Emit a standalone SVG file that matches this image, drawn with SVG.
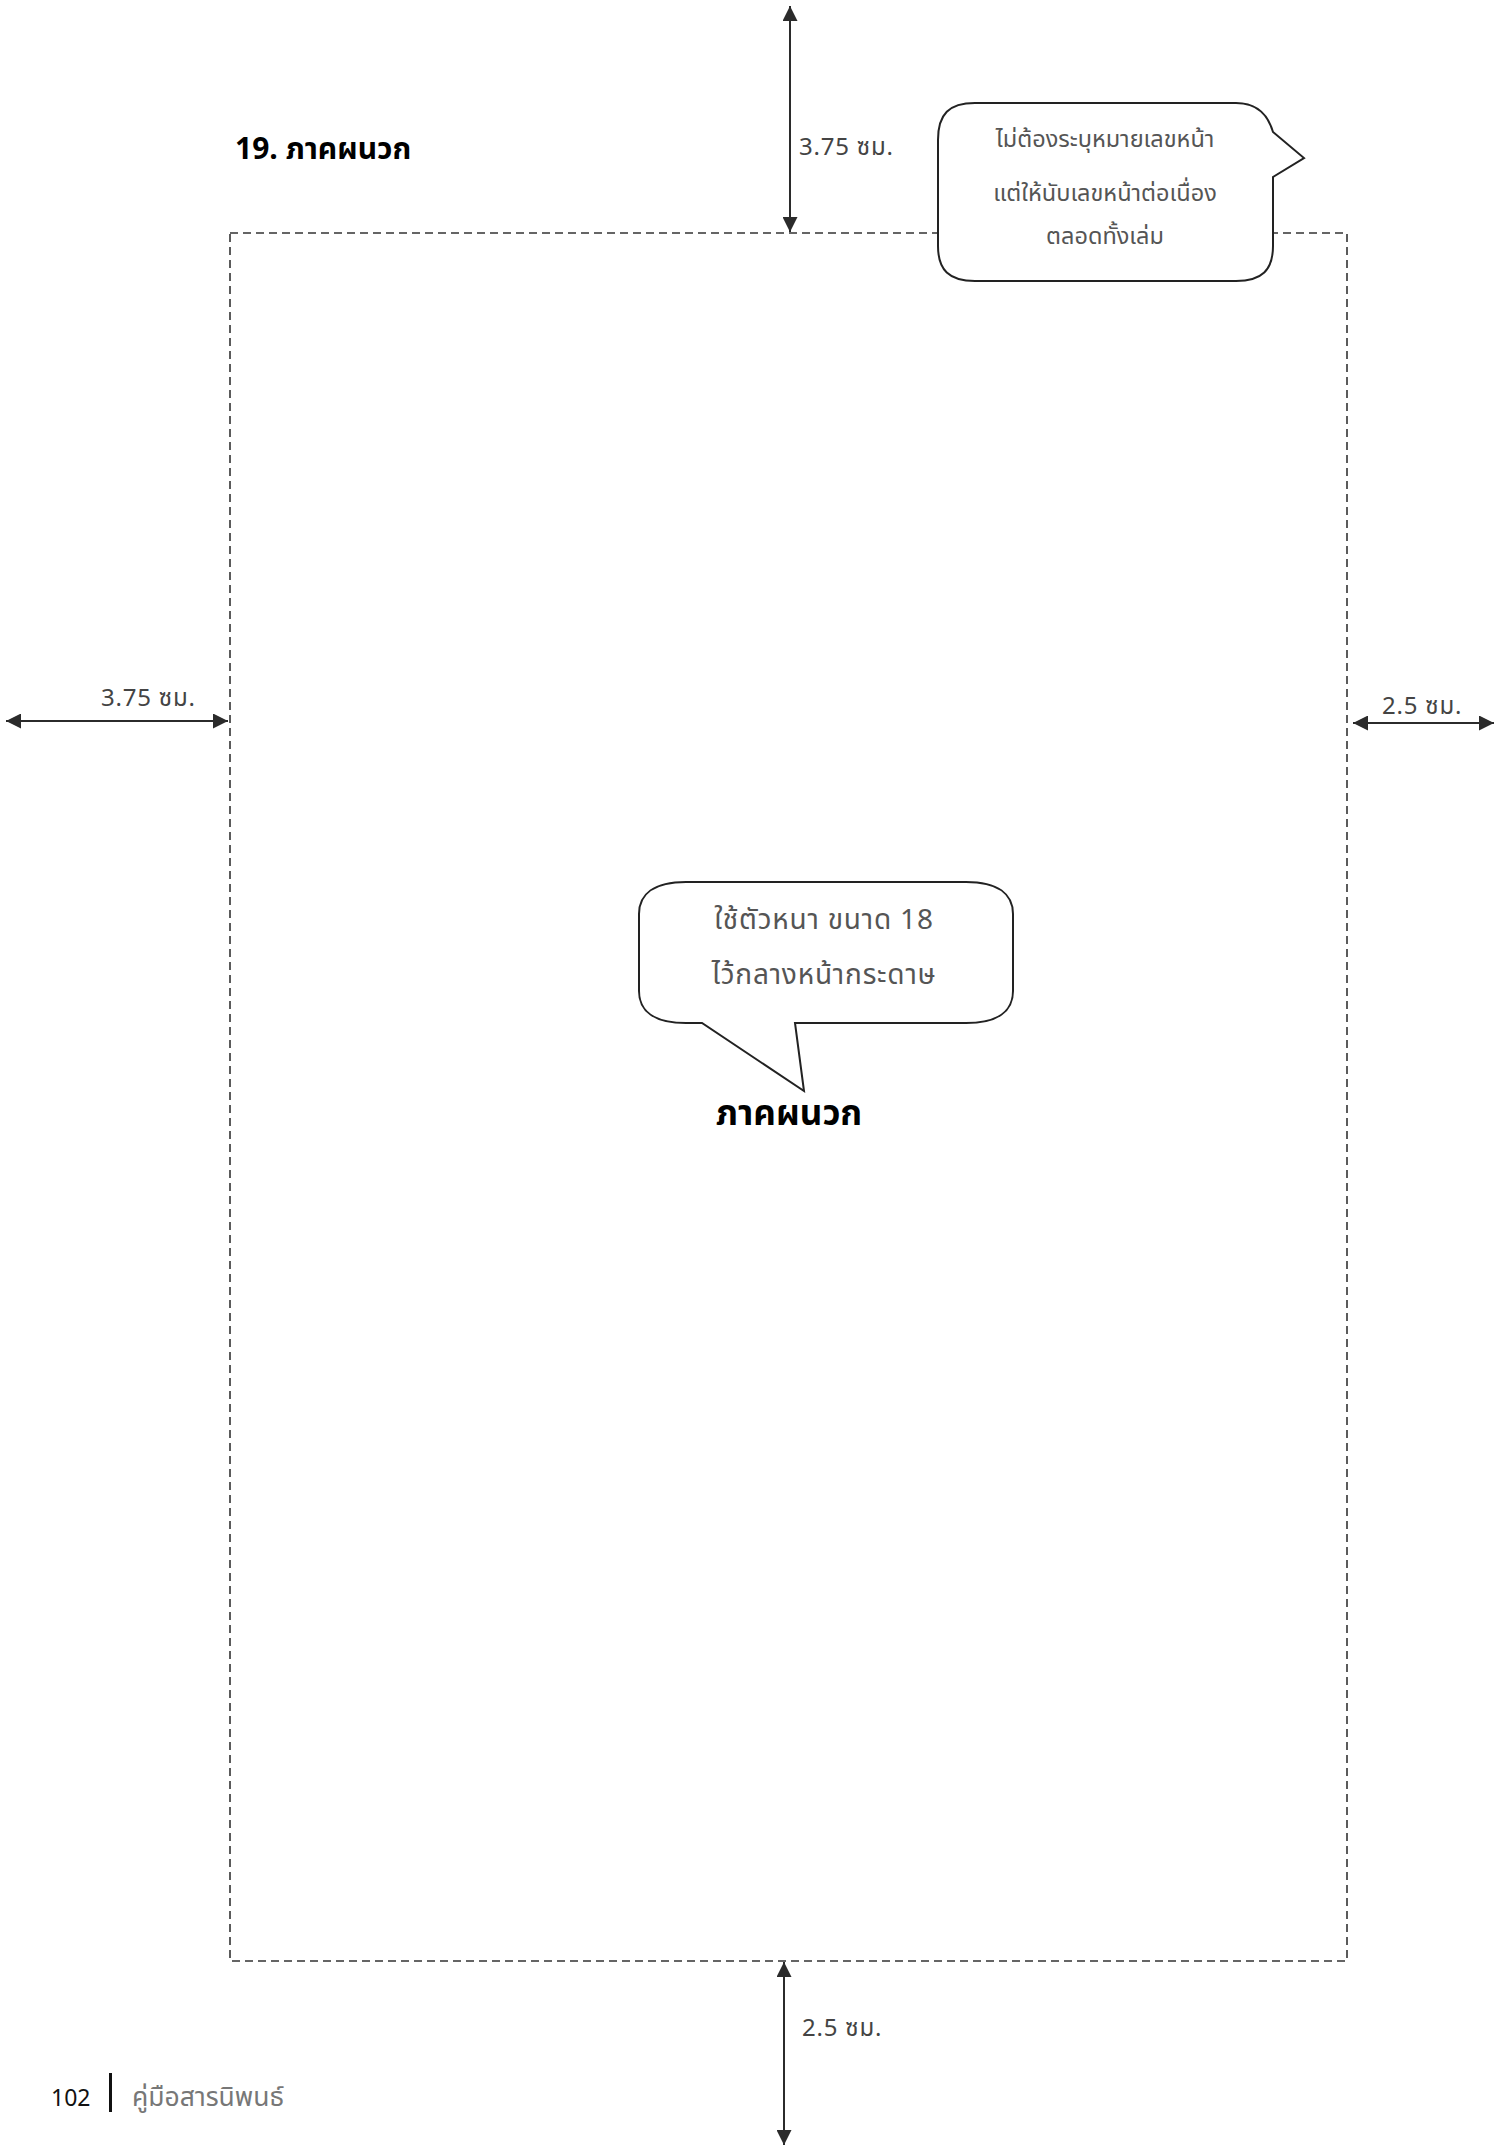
<svg xmlns="http://www.w3.org/2000/svg" width="1502" height="2146" viewBox="0 0 1502 2146">
<style>
.lbl{font-family:"Noto Sans Thai","Noto Sans","DejaVu Sans",sans-serif;fill:#444;font-size:24px;letter-spacing:0.8px}
.note{font-family:"Noto Sans Thai","Noto Sans","DejaVu Sans",sans-serif;fill:#555;font-size:23.5px;text-anchor:middle}
.big{font-size:28px;letter-spacing:0.8px}
.bold{font-family:"Noto Sans Thai","Noto Sans","DejaVu Sans",sans-serif;fill:#000;font-weight:bold}
.dim{stroke:#2b2b2b;stroke-width:2;fill:none;marker-start:url(#ah);marker-end:url(#ah)}
.bubble{fill:#fff;stroke:#222;stroke-width:2}
</style>
<defs>
<marker id="ah" viewBox="0 0 16 16" refX="16" refY="8" markerWidth="16" markerHeight="15" markerUnits="userSpaceOnUse" orient="auto-start-reverse">
<path d="M0,0 L16,8 L0,16 Z" fill="#2b2b2b"/>
</marker>
</defs>
<rect width="1502" height="2146" fill="#fff"/>
<g id="page-frame">
<rect x="230" y="233" width="1117" height="1728" fill="none" stroke="#333" stroke-width="1.6" stroke-dasharray="8 5"/>
</g>
<g id="title">
<text class="bold" x="235" y="159" font-size="30">19. ภาคผนวก</text>
</g>
<g id="connectors">
<line class="dim" x1="790" y1="6" x2="790" y2="232"/>
<line class="dim" x1="6" y1="721" x2="228" y2="721"/>
<line class="dim" x1="1353" y1="723" x2="1494" y2="723"/>
<line class="dim" x1="784" y1="1962" x2="784" y2="2145"/>
</g>
<g id="dim-labels">
<text class="lbl" x="799" y="155">3.75 ซม.</text>
<text class="lbl" x="101" y="706">3.75 ซม.</text>
<text class="lbl" x="1382" y="714">2.5 ซม.</text>
<text class="lbl" x="802" y="2036">2.5 ซม.</text>
</g>
<g id="callout-page-number">
<path class="bubble" d="M975,103 L1236,103 C1258,103 1268,115 1273,132 L1304,158 L1273,177 L1273,246 C1273,270 1262,281 1236,281 L975,281 C949,281 938,270 938,246 L938,140 C938,114 949,103 975,103 Z"/>
<text class="note" x="1105" y="147">ไม่ต้องระบุหมายเลขหน้า</text>
<text class="note" x="1105" y="201">แต่ให้นับเลขหน้าต่อเนื่อง</text>
<text class="note" x="1105" y="244">ตลอดทั้งเล่ม</text>
</g>
<g id="callout-heading">
<path class="bubble" d="M686,882 L966,882 C998,882 1013,894 1013,914 L1013,991 C1013,1011 998,1023 966,1023 L795,1023 L804,1091 L702,1023 L686,1023 C654,1023 639,1011 639,991 L639,914 C639,894 654,882 686,882 Z"/>
<text class="note big" x="824" y="929">ใช้ตัวหนา ขนาด 18</text>
<text class="note big" x="824" y="984">ไว้กลางหน้ากระดาษ</text>
</g>
<g id="heading">
<text class="bold" x="789" y="1125" font-size="35" text-anchor="middle">ภาคผนวก</text>
</g>
<g id="footer">
<text x="51" y="2106" font-family="'Noto Sans','DejaVu Sans',sans-serif" font-size="23" fill="#111">102</text>
<rect x="109" y="2073" width="3" height="39" fill="#111"/>
<text x="132" y="2106" font-family="'Noto Sans Thai','Noto Sans','DejaVu Sans',sans-serif" font-size="26.5" fill="#777">คู่มือสารนิพนธ์</text>
</g>
</svg>
